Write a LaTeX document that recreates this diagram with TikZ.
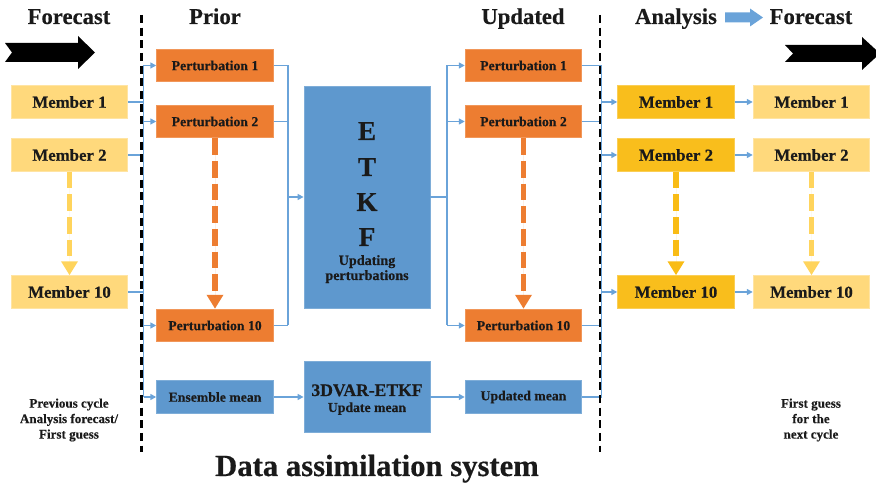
\documentclass[tikz,border=0pt]{standalone}
\usepackage{fontspec}
\setmainfont{Liberation Serif}[BoldFeatures={FakeBold=0.4}]
\usetikzlibrary{arrows.meta}

\definecolor{memlight}{HTML}{FFD97C}
\definecolor{memgold}{HTML}{F9BE1C}
\definecolor{pertorange}{HTML}{ED7D31}
\definecolor{procblue}{HTML}{5E98CE}
\definecolor{linkblue}{HTML}{6AA3D9}
\definecolor{dashlight}{HTML}{FFD45C}
\definecolor{dashgold}{HTML}{F9BC15}
\definecolor{inktext}{HTML}{1A1A1A}

\begin{document}
\begin{tikzpicture}[x=0.75pt,y=-0.75pt,
  box/.style={minimum width=87.5pt, minimum height=24.5pt, inner sep=0pt, text=inktext},
  member/.style={box, fill=memlight, draw=memlight!70!white, line width=0.6pt, font=\fontsize{12.6}{14}\selectfont\bfseries},
  analysis/.style={box, fill=memgold, draw=memgold!75!white, line width=0.6pt, font=\fontsize{12.6}{14}\selectfont\bfseries},
  pert/.style={box, fill=pertorange, draw=pertorange!80!white, line width=0.6pt, font=\fontsize{10.3}{12}\selectfont\bfseries},
  meanbox/.style={box, fill=procblue, draw=procblue!80!white, line width=0.6pt, font=\fontsize{10.3}{12}\selectfont\bfseries},
  heading/.style={font=\fontsize{17}{20}\selectfont\bfseries, text=inktext, inner sep=0pt},
  note/.style={font=\fontsize{9.8}{11.6}\selectfont\bfseries, text=inktext, align=center, inner sep=0pt},
  blocklabel/.style={text=inktext, anchor=base, inner sep=0pt},
  link/.style={draw=linkblue, line width=1.1pt},
  linkarrow/.style={link, -{Triangle[length=4.5pt,width=4.5pt]}},
  divider/.style={draw=black, line width=1.9pt, dash pattern=on 6pt off 3.5pt},
  skiparrow/.style={line width=4pt, dash pattern=on 12.5pt off 4.5pt, -{Triangle[length=10.5pt,width=12pt]}}
]
\useasboundingbox (0,0) rectangle (876,484);

% column headings
\node[heading, anchor=base] (hfcL) at (69,24) {Forecast};
\node[heading, anchor=base] (hprior) at (215,24) {Prior};
\node[heading, anchor=base] (hupd) at (523,24) {Updated};
\node[heading, anchor=base] (hana) at (676,24) {Analysis};
\node[heading, anchor=base] (hfcR) at (811,24) {Forecast};
\fill[linkblue] (725,12.5) -- (750,12.5) -- (750,8.5) -- (763,17.5) -- (750,26.5) -- (750,22.5) -- (725,22.5) -- cycle;

% black block arrows
\fill[black] (5,43) -- (78,43) -- (78,36) -- (95,52.5) -- (78,69) -- (78,62) -- (5,62) -- (12,52.5) -- cycle;
\fill[black] (785,45) -- (862,45) -- (862,37) -- (880,53.5) -- (862,70) -- (862,62) -- (785,62) -- (793,53.5) -- cycle;

% previous forecast members
\node[member] (fm1) at (69.5,102) {Member 1};
\node[member] (fm2) at (69.5,155) {Member 2};
\node[member] (fm10) at (69.5,292) {Member 10};

% prior perturbations and mean
\node[pert] (pp1) at (215,65.5) {Perturbation 1};
\node[pert] (pp2) at (215,121.5) {Perturbation 2};
\node[pert] (pp10) at (215,325.5) {Perturbation 10};
\node[meanbox] (em) at (215,397) {Ensemble mean};

% ETKF block
\node[fill=procblue, draw=procblue!80!white, line width=0.6pt, minimum width=94.5pt, minimum height=166.5pt, inner sep=0pt] (etkf) at (367,197) {};
\node[blocklabel, font=\fontsize{20.5}{24}\selectfont\bfseries] (lE) at (367,140) {E};
\node[blocklabel, font=\fontsize{20.5}{24}\selectfont\bfseries] (lT) at (367,176) {T};
\node[blocklabel, font=\fontsize{20.5}{24}\selectfont\bfseries] (lK) at (367,211) {K};
\node[blocklabel, font=\fontsize{20.5}{24}\selectfont\bfseries] (lF) at (367,246) {F};
\node[blocklabel, font=\fontsize{10.6}{12}\selectfont\bfseries] (lupd) at (367,265) {Updating};
\node[blocklabel, font=\fontsize{10.6}{12}\selectfont\bfseries] (lpert) at (367,280) {perturbations};

% 3DVAR-ETKF block
\node[fill=procblue, draw=procblue!80!white, line width=0.6pt, minimum width=94.5pt, minimum height=53.25pt, inner sep=0pt] (dvar) at (367,396.5) {};
\node[blocklabel, font=\fontsize{13.2}{15}\selectfont\bfseries] (ldvar) at (367,396) {3DVAR-ETKF};
\node[blocklabel, font=\fontsize{10.3}{12}\selectfont\bfseries] (lmean) at (367,412) {Update mean};

% updated perturbations and mean
\node[pert] (up1) at (523.5,65.5) {Perturbation 1};
\node[pert] (up2) at (523.5,121.5) {Perturbation 2};
\node[pert] (up10) at (523.5,325.5) {Perturbation 10};
\node[meanbox] (um) at (523.5,397) {Updated mean};

% analysis and next forecast members
\node[analysis] (am1) at (676,102) {Member 1};
\node[analysis] (am2) at (676,155) {Member 2};
\node[analysis] (am10) at (676,292) {Member 10};
\node[member] (nm1) at (811.5,102) {Member 1};
\node[member] (nm2) at (811.5,155) {Member 2};
\node[member] (nm10) at (811.5,292) {Member 10};

% bus positions
\coordinate (lbus) at (143.5,0);
\coordinate (mbusL) at (288,0);
\coordinate (mbusR) at (447,0);
\coordinate (rbus) at (601.5,0);

% members into prior
\draw[link] (fm1.east) -- (fm1.east -| lbus);
\draw[link] (fm2.east) -- (fm2.east -| lbus);
\draw[link] (fm10.east) -- (fm10.east -| lbus);
\draw[link] (pp1.west -| lbus) -- (em.west -| lbus);
\draw[linkarrow] (pp1.west -| lbus) -- (pp1.west);
\draw[linkarrow] (pp2.west -| lbus) -- (pp2.west);
\draw[linkarrow] (pp10.west -| lbus) -- (pp10.west);
\draw[linkarrow] (em.west -| lbus) -- (em.west);

% prior into ETKF
\draw[link] (pp1.east) -- (pp1.east -| mbusL);
\draw[link] (pp2.east) -- (pp2.east -| mbusL);
\draw[link] (pp10.east) -- (pp10.east -| mbusL);
\draw[link] (pp1.east -| mbusL) -- (pp10.east -| mbusL);
\draw[linkarrow] (etkf.west -| mbusL) -- (etkf.west);

% ETKF into updated perturbations
\draw[link] (etkf.east) -- (etkf.east -| mbusR);
\draw[link] (up1.west -| mbusR) -- (up10.west -| mbusR);
\draw[linkarrow] (up1.west -| mbusR) -- (up1.west);
\draw[linkarrow] (up2.west -| mbusR) -- (up2.west);
\draw[linkarrow] (up10.west -| mbusR) -- (up10.west);

% mean update
\draw[linkarrow] (em.east) -- (dvar.west |- em.east);
\draw[linkarrow] (dvar.east |- um.west) -- (um.west);

% updated into analysis
\draw[link] (up1.east) -- (up1.east -| rbus);
\draw[link] (up2.east) -- (up2.east -| rbus);
\draw[link] (up10.east) -- (up10.east -| rbus);
\draw[link] (um.east) -- (um.east -| rbus);
\draw[link] (up1.east -| rbus) -- (um.east -| rbus);
\draw[linkarrow] (am1.west -| rbus) -- (am1.west);
\draw[linkarrow] (am2.west -| rbus) -- (am2.west);
\draw[linkarrow] (am10.west -| rbus) -- (am10.west);

% analysis into next forecast
\draw[linkarrow] (am1.east) -- (nm1.west);
\draw[linkarrow] (am2.east) -- (nm2.west);
\draw[linkarrow] (am10.east) -- (nm10.west);

% skipped members
\draw[skiparrow, draw=dashlight, fill=dashlight] (fm2.south) -- (fm10.north);
\draw[skiparrow, draw=pertorange, fill=pertorange] (pp2.south) -- (pp10.north);
\draw[skiparrow, draw=pertorange, fill=pertorange] (up2.south) -- (up10.north);
\draw[skiparrow, draw=dashgold, fill=dashgold] (am2.south) -- (am10.north);
\draw[skiparrow, draw=dashlight, fill=dashlight] (nm2.south) -- (nm10.north);

% system boundaries
\draw[divider] (141.5,15) -- (141.5,452);
\draw[divider] (600,15) -- (600,452);

% notes
\node[note] (prevnote) at (69,420) {Previous cycle\\Analysis forecast/\\First guess};
\node[note] (nextnote) at (811,420) {First guess\\for the\\next cycle};
\node[blocklabel, font=\fontsize{23}{26}\selectfont\bfseries] (systitle) at (377,476) {Data assimilation system};
\end{tikzpicture}
\end{document}
